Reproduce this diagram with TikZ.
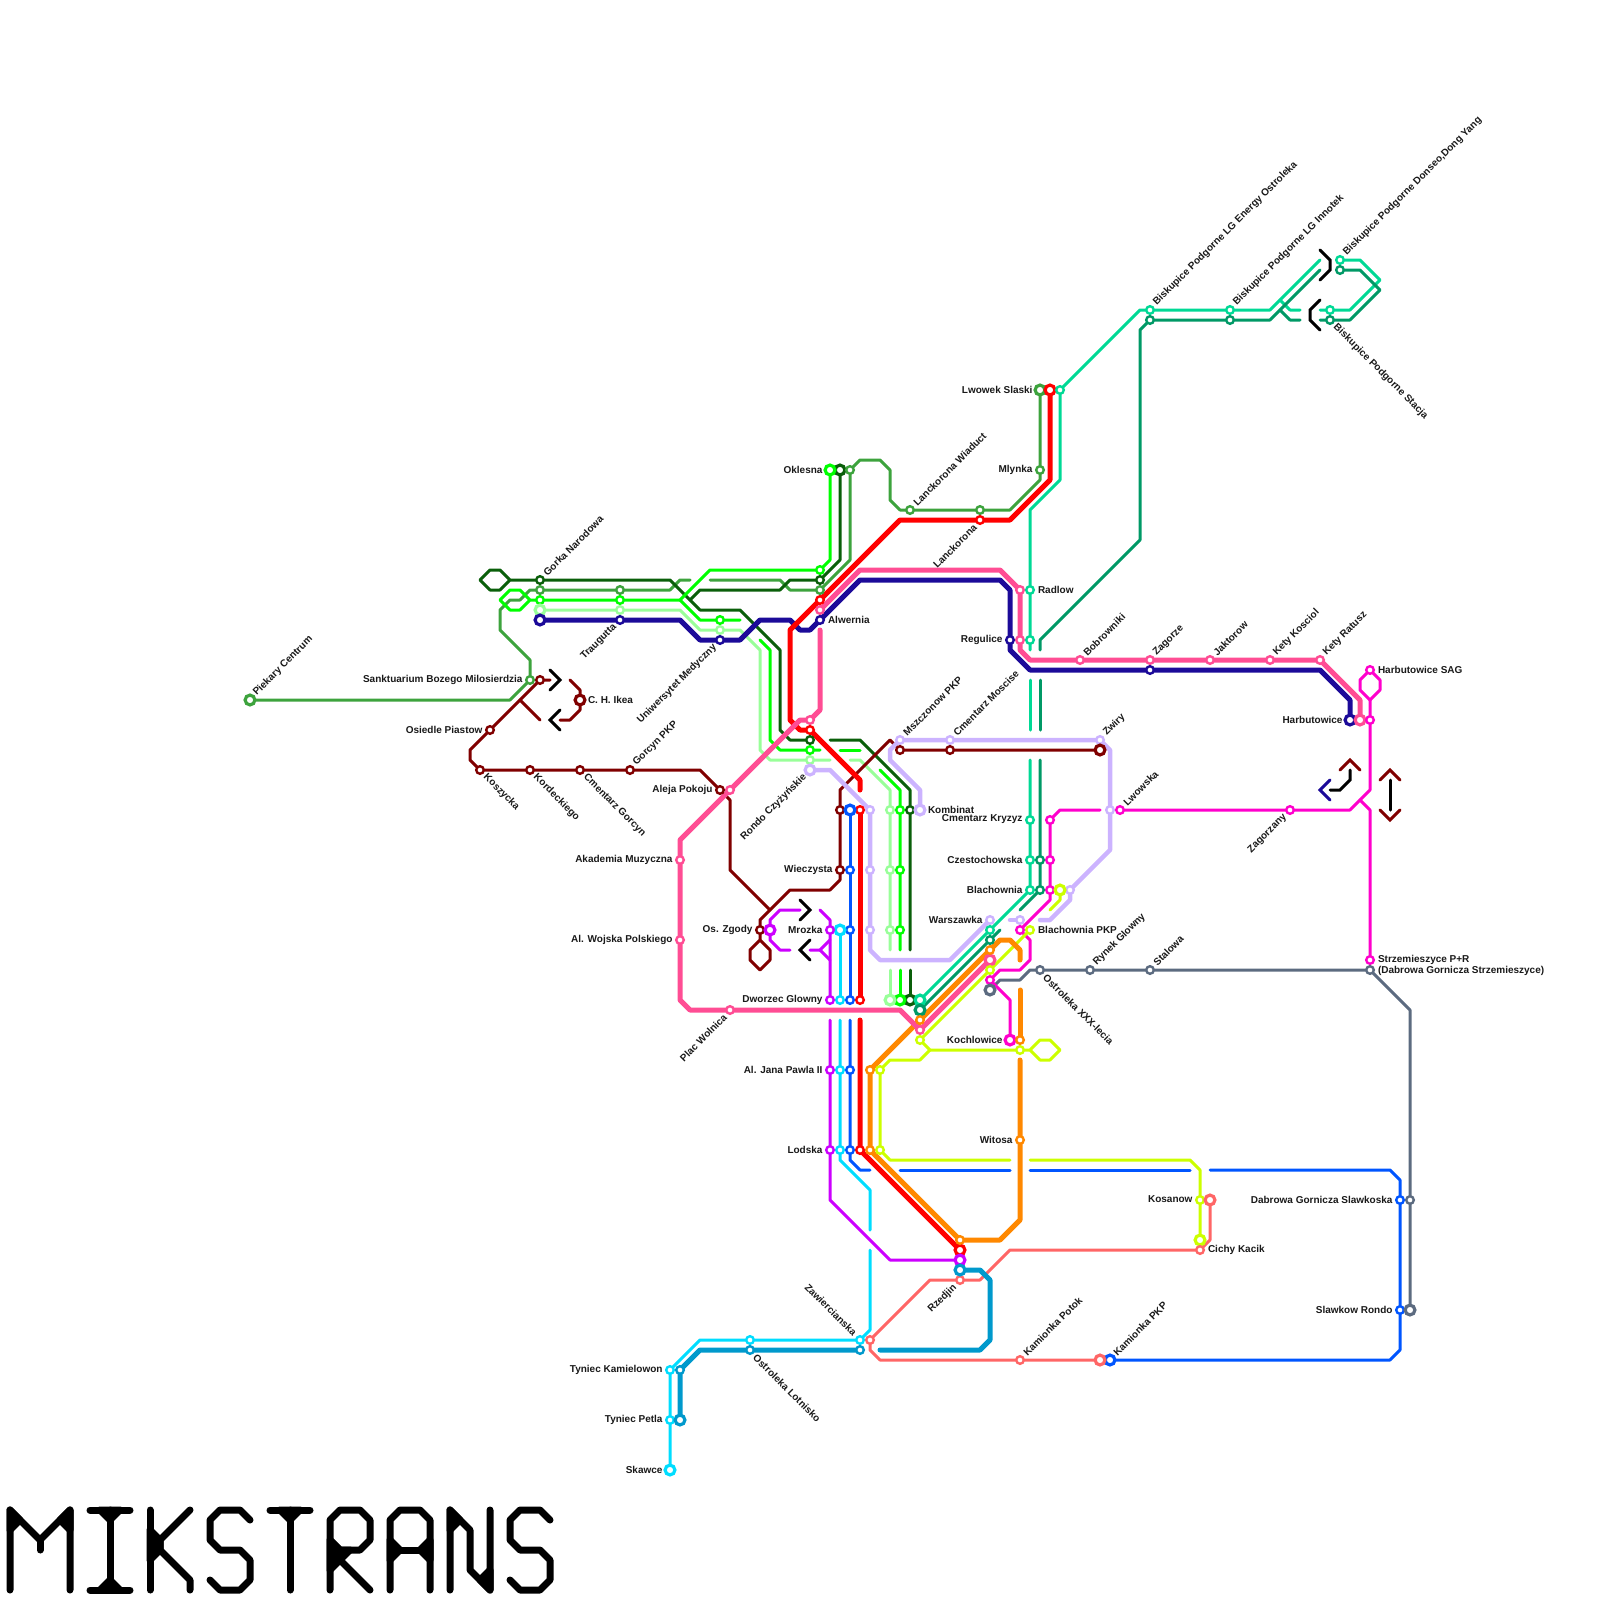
\documentclass[tikz,border=0pt]{standalone}
\usepackage{fontspec}
\usetikzlibrary{calc}
\setmainfont{Liberation Sans}
\pgfdeclarelayer{lines}
\pgfsetlayers{lines,main}
\definecolor{cdg}{HTML}{0A5F0A}
\definecolor{cmg}{HTML}{3DA33D}
\definecolor{cbg}{HTML}{00FF00}
\definecolor{clg}{HTML}{99FF99}
\definecolor{cdb}{HTML}{1C0A99}
\definecolor{cre}{HTML}{FF0000}
\definecolor{cpk}{HTML}{FF4D94}
\definecolor{cla}{HTML}{CCB3FF}
\definecolor{cdr}{HTML}{800000}
\definecolor{cma}{HTML}{FF00CC}
\definecolor{cta}{HTML}{00D995}
\definecolor{ctb}{HTML}{009966}
\definecolor{cor}{HTML}{FF8800}
\definecolor{cli}{HTML}{CCFF00}
\definecolor{cbl}{HTML}{0055FF}
\definecolor{ccy}{HTML}{00DDFF}
\definecolor{cpu}{HTML}{CC00FF}
\definecolor{cco}{HTML}{FF6666}
\definecolor{cce}{HTML}{0099CC}
\definecolor{csl}{HTML}{5C6B80}
\tikzset{
  stn/.style={circle,fill=white,inner sep=0pt,outer sep=0pt,minimum size=7.6pt,line width=2.4pt},
  ter/.style={circle,fill=white,inner sep=0pt,outer sep=0pt,minimum size=9.8pt,line width=3.2pt},
  lab/.style={font=\fontsize{10}{11}\selectfont\bfseries,inner sep=0pt,outer sep=0pt,text=black!90},
  thinl/.style={line width=3pt,line cap=round,line join=round},
  thickl/.style={line width=5pt,line cap=round,line join=round},
  lavl/.style={line width=4.5pt,line cap=round,line join=round,cla},
  walk/.style={line width=3pt,line cap=round,line join=miter,black},
  logo/.style={line width=7pt,line cap=round,line join=round,black}
}
\newcommand{\sn}[4]{\node[stn,draw=#4] (#1) at (#2,#3) {};}
\newcommand{\tn}[4]{\node[ter,draw=#4] (#1) at (#2,#3) {};}
\newcommand{\lL}[2]{\node[lab,anchor=east] (l#1) at ([xshift=-7.5pt,yshift=0.5pt]#1.center) {#2};}
\newcommand{\lR}[2]{\node[lab,anchor=west] (l#1) at ([xshift=8pt,yshift=0.5pt]#1.center) {#2};}
\newcommand{\lUs}[2]{\node[lab,anchor=west,rotate=45] (l#1) at ([xshift=5pt,yshift=6pt]#1.center) {#2};}
\newcommand{\lUe}[2]{\node[lab,anchor=east,rotate=45] (l#1) at ([xshift=-5pt,yshift=-6pt]#1.center) {#2};}
\newcommand{\lDs}[2]{\node[lab,anchor=west,rotate=-45] (l#1) at ([xshift=5pt,yshift=-6pt]#1.center) {#2};}
\newcommand{\lDe}[2]{\node[lab,anchor=east,rotate=-45] (l#1) at ([xshift=-5pt,yshift=6pt]#1.center) {#2};}
\begin{document}
\begin{tikzpicture}[x=1pt,y=-1pt]
\useasboundingbox (0,0) rectangle (1600,1600);
% ---- stations
\tn{dga}{840}{470}{cdg}\sn{dgb}{820}{580}{cdg}\sn{dgc}{540}{580}{cdg}\sn{dgd}{810}{740}{cdg}\sn{dge}{910}{810}{cdg}\tn{dgf}{910}{1000}{cdg}
\tn{mga}{250}{700}{cmg}\sn{mgb}{530}{680}{cmg}\sn{mgc}{540}{590}{cmg}\sn{mgd}{620}{590}{cmg}\sn{mge}{820}{590}{cmg}\sn{mgf}{850}{470}{cmg}\sn{mgg}{910}{510}{cmg}\sn{mgh}{980}{510}{cmg}\sn{mgi}{1040}{470}{cmg}\tn{mgj}{1040}{390}{cmg}
\tn{bga}{830}{470}{cbg}\sn{bgb}{820}{570}{cbg}\sn{bgc}{540}{600}{cbg}\sn{bgd}{620}{600}{cbg}\sn{bge}{720}{620}{cbg}\sn{bgf}{810}{750}{cbg}\sn{bgg}{900}{810}{cbg}\sn{bgh}{900}{870}{cbg}\sn{bgi}{900}{930}{cbg}\tn{bgj}{900}{1000}{cbg}
\tn{lga}{540}{610}{clg}\sn{lgb}{620}{610}{clg}\sn{lgc}{720}{630}{clg}\sn{lgd}{810}{760}{clg}\sn{lge}{890}{810}{clg}\sn{lgf}{890}{870}{clg}\sn{lgg}{890}{930}{clg}\tn{lgh}{890}{1000}{clg}
\tn{dba}{540}{620}{cdb}\sn{dbb}{620}{620}{cdb}\sn{dbc}{720}{640}{cdb}\sn{dbd}{820}{620}{cdb}\sn{dbe}{1010}{640}{cdb}\sn{dbf}{1150}{670}{cdb}\tn{dbg}{1350}{720}{cdb}
\tn{rea}{1050}{390}{cre}\sn{reb}{980}{520}{cre}\sn{rec}{820}{600}{cre}\sn{red}{810}{730}{cre}\sn{ree}{860}{810}{cre}\sn{ref}{860}{1000}{cre}\sn{reg}{860}{1150}{cre}\tn{reh}{960}{1250}{cre}
\sn{pka}{1320}{660}{cpk}\sn{pkb}{1270}{660}{cpk}\sn{pkc}{1210}{660}{cpk}\sn{pkd}{1150}{660}{cpk}\sn{pke}{1080}{660}{cpk}\sn{pkf}{1020}{640}{cpk}\sn{pkg}{1020}{590}{cpk}\sn{pkh}{820}{610}{cpk}\sn{pki}{810}{720}{cpk}\sn{pkj}{730}{790}{cpk}\sn{pkk}{680}{860}{cpk}\sn{pkl}{680}{940}{cpk}\sn{pkm}{730}{1010}{cpk}\sn{pkn}{920}{1030}{cpk}\tn{pko}{990}{960}{cpk}\tn{pkp}{1360}{720}{cpk}
\tn{laa}{810}{770}{cla}\sn{lab}{870}{810}{cla}\sn{lac}{870}{870}{cla}\sn{lad}{870}{930}{cla}\sn{lae}{990}{920}{cla}\sn{laf}{1020}{920}{cla}\sn{lag}{1070}{890}{cla}\sn{lah}{1110}{810}{cla}\sn{lai}{1100}{740}{cla}\sn{laj}{950}{740}{cla}\sn{lak}{900}{740}{cla}\tn{lal}{920}{810}{cla}
\sn{dra}{540}{680}{cdr}\sn{drb}{490}{730}{cdr}\sn{drc}{480}{770}{cdr}\sn{drd}{530}{770}{cdr}\sn{dre}{580}{770}{cdr}\sn{drf}{630}{770}{cdr}\sn{drg}{720}{790}{cdr}\sn{drh}{840}{810}{cdr}\sn{dri}{840}{870}{cdr}\sn{drj}{760}{930}{cdr}\sn{drk}{900}{750}{cdr}\sn{drl}{950}{750}{cdr}\tn{drm}{1100}{750}{cdr}\tn{drn}{580}{700}{cdr}
\sn{maa}{1370}{670}{cma}\sn{mab}{1370}{720}{cma}\sn{mac}{1290}{810}{cma}\sn{mad}{1120}{810}{cma}\sn{mae}{1050}{820}{cma}\sn{maf}{1050}{860}{cma}\sn{mag}{1050}{890}{cma}\sn{mah}{1020}{930}{cma}\sn{mai}{990}{980}{cma}\tn{maj}{1010}{1040}{cma}\sn{mak}{1370}{960}{cma}
\sn{taa}{1340}{260}{cta}\sn{tab}{1330}{310}{cta}\sn{tac}{1230}{310}{cta}\sn{tad}{1150}{310}{cta}\sn{tae}{1060}{390}{cta}\sn{taf}{1030}{590}{cta}\sn{tag}{1030}{640}{cta}\sn{tah}{1030}{820}{cta}\sn{tai}{1030}{860}{cta}\sn{taj}{1030}{890}{cta}\sn{tak}{990}{930}{cta}\tn{tal}{920}{1000}{cta}
\sn{tba}{1340}{270}{ctb}\sn{tbb}{1330}{320}{ctb}\sn{tbc}{1230}{320}{ctb}\sn{tbd}{1150}{320}{ctb}\sn{tbe}{1040}{860}{ctb}\sn{tbf}{1040}{890}{ctb}\sn{tbg}{990}{940}{ctb}\tn{tbh}{920}{1010}{ctb}
\sn{ora}{870}{1070}{cor}\sn{orb}{870}{1150}{cor}\sn{orc}{990}{950}{cor}\sn{ord}{920}{1020}{cor}\sn{ore}{1020}{1040}{cor}\sn{orf}{1020}{1140}{cor}\sn{org}{960}{1240}{cor}
\sn{lia}{1030}{930}{cli}\sn{lib}{990}{970}{cli}\sn{lic}{920}{1040}{cli}\sn{lid}{1020}{1050}{cli}\sn{lie}{880}{1070}{cli}\sn{lif}{880}{1150}{cli}\sn{lig}{1200}{1200}{cli}\tn{lih}{1200}{1240}{cli}\tn{lii}{1060}{890}{cli}
\tn{bla}{1110}{1360}{cbl}\sn{blb}{1400}{1310}{cbl}\sn{blc}{1400}{1200}{cbl}\sn{bld}{850}{1150}{cbl}\sn{ble}{850}{1070}{cbl}\sn{blf}{850}{1000}{cbl}\sn{blg}{850}{930}{cbl}\sn{blh}{850}{870}{cbl}\tn{bli}{850}{810}{cbl}
\tn{cya}{840}{930}{ccy}\sn{cyb}{840}{1000}{ccy}\sn{cyc}{840}{1070}{ccy}\sn{cyd}{840}{1150}{ccy}\sn{cye}{860}{1340}{ccy}\sn{cyf}{750}{1340}{ccy}\sn{cyg}{670}{1370}{ccy}\sn{cyh}{670}{1420}{ccy}\tn{cyi}{670}{1470}{ccy}
\sn{pua}{830}{930}{cpu}\sn{pub}{830}{1000}{cpu}\sn{puc}{830}{1070}{cpu}\sn{pud}{830}{1150}{cpu}\tn{pue}{960}{1260}{cpu}\tn{puf}{770}{930}{cpu}
\tn{coa}{1210}{1200}{cco}\sn{cob}{1200}{1250}{cco}\sn{coc}{960}{1280}{cco}\sn{cod}{870}{1340}{cco}\sn{coe}{1020}{1360}{cco}\tn{cof}{1100}{1360}{cco}
\tn{cea}{960}{1270}{cce}\sn{ceb}{860}{1350}{cce}\sn{cec}{750}{1350}{cce}\sn{ced}{680}{1370}{cce}\tn{cee}{680}{1420}{cce}
\tn{sla}{990}{990}{csl}\sn{slb}{1040}{970}{csl}\sn{slc}{1090}{970}{csl}\sn{sld}{1150}{970}{csl}\sn{sle}{1370}{970}{csl}\sn{slf}{1410}{1200}{csl}\tn{slg}{1410}{1310}{csl}
% ---- labels
\lUs{mga}{Piekary Centrum}
\lUs{dgc}{Gorka Narodowa}
\lL{mgb}{Sanktuarium Bozego Milosierdzia}
\lUe{dbb}{Traugutta}
\lUe{dbc}{Uniwersytet Medyczny}
\lR{drn}{C. H. Ikea}
\lL{drb}{Osiedle Piastow}
\lDs{drc}{Koszycka}
\lDs{drd}{Kordeckiego}
\lDs{dre}{Cmentarz Gorcyn}
\lUs{drf}{Gorcyn PKP}
\lL{drg}{Aleja Pokoju}
\lUe{laa}{Rondo Czyżyńskie}
\lL{pkk}{Akademia Muzyczna}
\lL{pkl}{Al. Wojska Polskiego}
\lUe{pkm}{Plac Wolnica}
\lL{bga}{Oklesna}
\lUs{mgg}{Lanckorona Wiaduct}
\lUe{reb}{Lanckorona}
\lL{mgj}{Lwowek Slaski}
\lL{mgi}{Mlynka}
\lR{taf}{Radlow}
\lL{dbe}{Regulice}
\lR{dbd}{Alwernia}
\lUs{tad}{Biskupice Podgorne LG Energy Ostroleka}
\lUs{tac}{Biskupice Podgorne LG Innotek}
\lUs{taa}{Biskupice Podgorne Donseo,Dong Yang}
\lDs{tbb}{Biskupice Podgorne Stacja}
\lUs{pke}{Bobrowniki}
\lUs{pkd}{Zagorze}
\lUs{pkc}{Jaktorow}
\lUs{pkb}{Kety Kosciol}
\lUs{pka}{Kety Ratusz}
\lL{dbg}{Harbutowice}
\lR{maa}{Harbutowice SAG}
\lUs{lak}{Mszczonow PKP}
\lUs{laj}{Cmentarz Moscise}
\lUs{lai}{Zwiry}
\lR{lal}{Kombinat}
\lUs{mad}{Lwowska}
\lUe{mac}{Zagorzany}
\lL{tah}{Cmentarz Kryzyz}
\lL{tai}{Czestochowska}
\lL{taj}{Blachownia}
\lL{lae}{Warszawka}
\lR{lia}{Blachownia PKP}
\lUs{slc}{Rynek Glowny}
\lUs{sld}{Stalowa}
\lDs{slb}{Ostroleka XXX-lecia}
\node[lab,anchor=west,align=left] (lmak) at ([xshift=8pt,yshift=0pt]$(mak.center)!0.5!(sle.center)$) {Strzemieszyce P+R\\(Dabrowa Gornicza Strzemieszyce)};
\lL{maj}{Kochlowice}
\lL{orf}{Witosa}
\lL{dri}{Wieczysta}
\lL{drj}{Os. Zgody}
\lL{pua}{Mrozka}
\lL{pub}{Dworzec Glowny}
\lL{puc}{Al. Jana Pawla II}
\lL{pud}{Lodska}
\lL{lig}{Kosanow}
\lR{cob}{Cichy Kacik}
\lL{blc}{Dabrowa Gornicza Slawkoska}
\lL{blb}{Slawkow Rondo}
\lUs{coe}{Kamionka Potok}
\lUs{bla}{Kamionka PKP}
\lUe{coc}{Rzedjin}
\lDe{cye}{Zawiercianska}
\lDs{cec}{Ostroleka Lotnisko}
\lL{cyg}{Tyniec Kamielowon}
\lL{cyh}{Tyniec Petla}
\lL{cyi}{Skawce}
% ---- lines
\begin{pgfonlayer}{lines}
% medium green
\draw[thinl,cmg] (mga.center) -- (510,700) -- (mgb.center) -- (530,660) -- (500,630) -- (500,610) -- (510,600) -- (520,600) -- (530,590) -- (mgc.center) -- (mgd.center) -- (670,590) -- (680,580) -- (690,580);
\draw[thinl,cmg] (710,580) -- (780,580) -- (790,590) -- (mge.center) -- (850,560) -- (mgf.center) -- (860,460) -- (880,460) -- (890,470) -- (890,500) -- (900,510) -- (mgg.center) -- (mgh.center) -- (1010,510) -- (1040,480) -- (mgi.center) -- (mgj.center);
% dark green
\draw[thinl,cdg] (dgc.center) -- (510,580) -- (500,570) -- (490,570) -- (480,580) -- (490,590) -- (500,590) -- (510,580);
\draw[thinl,cdg] (dgc.center) -- (670,580) -- (700,610) -- (740,610) -- (780,650) -- (780,730) -- (790,740) -- (dgd.center);
\draw[thinl,cdg] (dga.center) -- (840,560) -- (dgb.center) -- (790,580) -- (780,590) -- (700,590) -- (690,600);
\draw[thinl,cdg] (830,740) -- (860,740) -- (910,790) -- (dge.center) -- (910,950);
\draw[thinl,cdg] (910,970) -- (dgf.center);
% light green
\draw[thinl,clg] (lga.center) -- (lgb.center) -- (680,610) -- (700,630) -- (lgc.center) -- (740,630) -- (760,650) -- (760,750) -- (770,760) -- (lgd.center) -- (830,760);
\draw[thinl,clg] (850,760) -- (860,760) -- (890,790) -- (lge.center) -- (lgf.center) -- (lgg.center) -- (890,950);
\draw[thinl,clg] (890,970) -- (lgh.center);
% bright green
\draw[thinl,cbg] (bga.center) -- (830,560) -- (bgb.center) -- (710,570) -- (680,600) -- (bgd.center) -- (bgc.center) -- (530,600) -- (520,590) -- (510,590) -- (500,600) -- (510,610) -- (520,610) -- (530,600);
\draw[thinl,cbg] (680,600) -- (700,620) -- (bge.center) -- (740,620);
\draw[thinl,cbg] (760,640) -- (770,650) -- (770,740) -- (780,750) -- (bgf.center) -- (820,750);
\draw[thinl,cbg] (840,750) -- (860,750);
\draw[thinl,cbg] (880,770) -- (900,790) -- (bgg.center) -- (bgh.center) -- (bgi.center) -- (900,950);
\draw[thinl,cbg] (900,970) -- (bgj.center);
% maroon
\draw[thinl,cdr] (550,680) -- (dra.center) -- (drb.center) -- (470,750) -- (470,760) -- (drc.center) -- (drd.center) -- (dre.center) -- (drf.center) -- (700,770) -- (drg.center) -- (730,800) -- (730,870) -- (770,910);
\draw[thinl,cdr] (520,700) -- (540,720);
\draw[thinl,cdr] (570,680) -- (580,690) -- (drn.center) -- (580,710) -- (570,720) -- (560,720);
\draw[thinl,cdr] (drm.center) -- (drl.center) -- (drk.center) -- (890,740) -- (840,790) -- (drh.center) -- (dri.center) -- (840,880) -- (830,890) -- (790,890) -- (760,920) -- (drj.center) -- (760,940) -- (770,950) -- (770,960) -- (760,970) -- (750,960) -- (750,950) -- (760,940);
% lavender
\draw[lavl] (laa.center) -- (830,770) -- (lab.center) -- (lac.center) -- (lad.center) -- (870,950) -- (880,960) -- (950,960) -- (lae.center);
\draw[lavl] (1010,920) -- (laf.center);
\draw[lavl] (1040,920) -- (1050,920) -- (1070,900) -- (lag.center) -- (1110,850) -- (lah.center) -- (1110,750) -- (lai.center) -- (laj.center) -- (lak.center) -- (890,750) -- (890,760) -- (920,790) -- (lal.center);
% slate
\draw[thinl,csl] (sla.center) -- (1000,980) -- (1020,980) -- (1030,970) -- (slb.center) -- (slc.center) -- (sld.center) -- (sle.center) -- (1410,1010) -- (slf.center) -- (slg.center);
% teal
\draw[thinl,cta] (taa.center) -- (1360,260) -- (1380,280) -- (1350,310) -- (tab.center) -- (1320,310);
\draw[thinl,cta] (1300,310) -- (1290,310) -- (1280,300);
\draw[thinl,cta] (1320,260) -- (1270,310) -- (tac.center) -- (tad.center) -- (1140,310) -- (tae.center) -- (1060,480) -- (1030,510) -- (taf.center) -- (tag.center) -- (1030,650);
\draw[thinl,cta] (1030,680) -- (1030,730);
\draw[thinl,cta] (1030,760) -- (tah.center) -- (tai.center) -- (taj.center) -- (tak.center) -- (tal.center);
\draw[thinl,ctb] (tba.center) -- (1360,270) -- (1380,290) -- (1350,320) -- (tbb.center) -- (1320,320);
\draw[thinl,ctb] (1300,320) -- (1290,320) -- (1280,310);
\draw[thinl,ctb] (1320,270) -- (1270,320) -- (tbc.center) -- (tbd.center) -- (1140,330) -- (1140,540) -- (1040,640) -- (1040,650);
\draw[thinl,ctb] (1040,680) -- (1040,730);
\draw[thinl,ctb] (1040,760) -- (tbe.center) -- (tbf.center) -- (1020,910);
\draw[thinl,ctb] (1000,930) -- (tbg.center) -- (tbh.center);
% magenta
\draw[thinl,cma] (maa.center) -- (1360,680) -- (1360,690) -- (1370,700) -- (1380,690) -- (1380,680) -- (maa.center);
\draw[thinl,cma] (1370,700) -- (mab.center) -- (1370,790) -- (1350,810) -- (mac.center) -- (mad.center);
\draw[thinl,cma] (1360,800) -- (1370,810) -- (mak.center);
\draw[thinl,cma] (1100,810) -- (1060,810) -- (mae.center) -- (maf.center) -- (mag.center) -- (1050,900) -- (mah.center) -- (1030,940) -- (1030,960) -- (1020,970) -- (1000,970) -- (mai.center) -- (1010,1000) -- (maj.center);
% lime
\draw[thinl,cli] (1030,1050) -- (1040,1040) -- (1050,1040) -- (1060,1050) -- (1050,1060) -- (1040,1060) -- (1030,1050) -- (lid.center) -- (930,1050) -- (lic.center) -- (lib.center) -- (lia.center);
\draw[thinl,cli] (930,1050) -- (920,1060) -- (890,1060) -- (lie.center) -- (lif.center) -- (890,1160) -- (1010,1160);
\draw[thinl,cli] (1030,1160) -- (1190,1160) -- (1200,1170) -- (lig.center) -- (lih.center);
\draw[thinl,cli] (lii.center) -- (1060,900) -- (1050,910);
% blue
\draw[thinl,cbl] (bla.center) -- (1390,1360) -- (1400,1350) -- (blb.center) -- (blc.center) -- (1400,1180) -- (1390,1170) -- (1210,1170);
\draw[thinl,cbl] (1190,1170) -- (1030,1170);
\draw[thinl,cbl] (1010,1170) -- (900,1170);
\draw[thinl,cbl] (870,1170) -- (860,1170) -- (850,1160) -- (bld.center) -- (ble.center) -- (850,1020);
\draw[thinl,cbl] (blf.center) -- (blg.center) -- (blh.center) -- (bli.center);
% cyan
\draw[thinl,ccy] (cya.center) -- (cyb.center);
\draw[thinl,ccy] (840,1020) -- (cyc.center) -- (cyd.center) -- (840,1160) -- (870,1190) -- (870,1230);
\draw[thinl,ccy] (870,1250) -- (870,1330) -- (cye.center) -- (cyf.center) -- (700,1340) -- (cyg.center) -- (cyh.center) -- (cyi.center);
% purple
\draw[thinl,cpu] (820,910) -- (830,920) -- (pua.center) -- (pub.center);
\draw[thinl,cpu] (830,1020) -- (puc.center) -- (pud.center) -- (830,1200) -- (890,1260) -- (pue.center);
\draw[thinl,cpu] (800,910) -- (780,910) -- (770,920) -- (puf.center) -- (770,940) -- (780,950) -- (790,950);
\draw[thinl,cpu] (810,950) -- (820,950) -- (830,940);
\draw[thinl,cpu] (820,950) -- (830,960);
% coral
\draw[thinl,cco] (coa.center) -- (1210,1240) -- (cob.center) -- (1010,1250) -- (980,1280) -- (coc.center) -- (930,1280) -- (cod.center) -- (870,1350) -- (880,1360) -- (coe.center) -- (cof.center);
% dark blue
\draw[thickl,cdb] (dba.center) -- (dbb.center) -- (680,620) -- (700,640) -- (dbc.center) -- (740,640) -- (760,620) -- (790,620) -- (800,630) -- (810,630) -- (dbd.center) -- (860,580) -- (1000,580) -- (1010,590) -- (dbe.center) -- (1010,650) -- (1030,670) -- (dbf.center) -- (1320,670) -- (1350,700) -- (dbg.center);
% cerulean
\draw[thickl,cce] (cea.center) -- (980,1270) -- (990,1280) -- (990,1340) -- (980,1350) -- (880,1350);
\draw[thickl,cce] (ceb.center) -- (cec.center) -- (700,1350) -- (ced.center) -- (cee.center);
% orange
\draw[thickl,cor] (org.center) -- (orb.center) -- (ora.center) -- (ord.center) -- (orc.center) -- (1000,940) -- (1010,940) -- (1020,950) -- (1020,960);
\draw[thickl,cor] (1020,990) -- (ore.center) -- (1020,1040);
\draw[thickl,cor] (1020,1060) -- (orf.center) -- (1020,1220) -- (1000,1240) -- (org.center);
% red
\draw[thickl,cre] (rea.center) -- (1050,480) -- (1010,520) -- (reb.center) -- (900,520) -- (rec.center) -- (790,630) -- (790,720) -- (800,730) -- (red.center) -- (860,780) -- (860,790);
\draw[thickl,cre] (ree.center) -- (ref.center);
\draw[thickl,cre] (860,1020) -- (reg.center) -- (reh.center);
% pink
\draw[thickl,cpk] (pkp.center) -- (1360,700) -- (pka.center) -- (pkb.center) -- (pkc.center) -- (pkd.center) -- (pke.center) -- (1030,660) -- (1020,650) -- (pkf.center) -- (pkg.center) -- (1000,570) -- (860,570) -- (pkh.center);
\draw[thickl,cpk] (820,630) -- (820,710) -- (pki.center) -- (800,720) -- (pkj.center) -- (680,840) -- (pkk.center) -- (pkl.center) -- (680,1000) -- (690,1010) -- (pkm.center) -- (900,1010) -- (pkn.center) -- (pko.center);
% walkways
\draw[walk] (550,670) -- (560,680) -- (550,690);
\draw[walk] (560,710) -- (550,720) -- (560,730);
\draw[walk] (800,900) -- (810,910) -- (800,920);
\draw[walk] (810,940) -- (800,950) -- (810,960);
\draw[walk] (1320,250) -- (1330,260) -- (1330,270) -- (1320,280);
\draw[walk] (1320,300) -- (1310,310) -- (1310,320) -- (1320,330);
\draw[walk] (1350,770) -- (1350,780) -- (1340,790) -- (1330,790);
\draw[walk] (1390,780) -- (1390,810);
\draw[walk,cdr] (1340,770) -- (1350,760) -- (1360,770);
\draw[walk,cdr] (1380,780) -- (1390,770) -- (1400,780);
\draw[walk,cdr] (1380,810) -- (1390,820) -- (1400,810);
\draw[walk,cdb] (1330,780) -- (1320,790) -- (1330,800);
% ---- logo
% M
\draw[logo] (10,1590) -- (10,1510) -- (40,1540) -- (70,1510) -- (70,1590);
\draw[logo] (40,1540) -- (40,1550);
\draw[logo,fill=black] (10,1510) -- (10,1530) -- (20,1520) -- cycle;
\draw[logo,fill=black] (70,1510) -- (70,1530) -- (60,1520) -- cycle;
% I
\draw[logo] (90,1510) -- (130,1510);
\draw[logo] (110,1510) -- (110,1590);
\draw[logo] (90,1590) -- (130,1590);
\draw[logo,fill=black] (100,1510) -- (110,1520) -- (120,1510) -- cycle;
\draw[logo,fill=black] (100,1590) -- (110,1580) -- (120,1590) -- cycle;
% K
\draw[logo] (150,1510) -- (150,1590);
\draw[logo] (190,1510) -- (160,1540) -- (160,1550) -- (190,1580) -- (190,1590);
\draw[logo,fill=black] (150,1530) -- (160,1540) -- (160,1550) -- (150,1560) -- cycle;
% S
\draw[logo] (250,1520) -- (240,1510) -- (220,1510) -- (210,1520) -- (210,1540) -- (220,1550) -- (240,1550) -- (250,1560) -- (250,1580) -- (240,1590) -- (220,1590) -- (210,1580);
% T
\draw[logo] (270,1510) -- (310,1510);
\draw[logo] (290,1510) -- (290,1590);
\draw[logo,fill=black] (280,1510) -- (290,1520) -- (300,1510) -- cycle;
% R
\draw[logo] (330,1590) -- (330,1520) -- (340,1510) -- (360,1510) -- (370,1520) -- (370,1540) -- (360,1550) -- (340,1550) -- (330,1540);
\draw[logo] (370,1590) -- (340,1560);
\draw[logo,fill=black] (330,1540) -- (340,1550) -- (350,1550) -- (340,1560) -- (330,1570) -- cycle;
% A
\draw[logo] (390,1590) -- (390,1520) -- (400,1510) -- (420,1510) -- (430,1520) -- (430,1590);
\draw[logo,fill=black] (390,1540) -- (400,1550) -- (390,1560) -- cycle;
\draw[logo,fill=black] (430,1540) -- (420,1550) -- (430,1560) -- cycle;
\draw[logo] (400,1550) -- (420,1550);
% N
\draw[logo] (450,1590) -- (450,1510) -- (470,1530) -- (470,1570) -- (490,1590) -- (490,1510);
\draw[logo,fill=black] (450,1510) -- (450,1530) -- (460,1520) -- cycle;
\draw[logo,fill=black] (490,1590) -- (490,1570) -- (480,1580) -- cycle;
% S
\draw[logo] (550,1520) -- (540,1510) -- (520,1510) -- (510,1520) -- (510,1540) -- (520,1550) -- (540,1550) -- (550,1560) -- (550,1580) -- (540,1590) -- (520,1590) -- (510,1580);
\end{pgfonlayer}
\end{tikzpicture}
\end{document}
